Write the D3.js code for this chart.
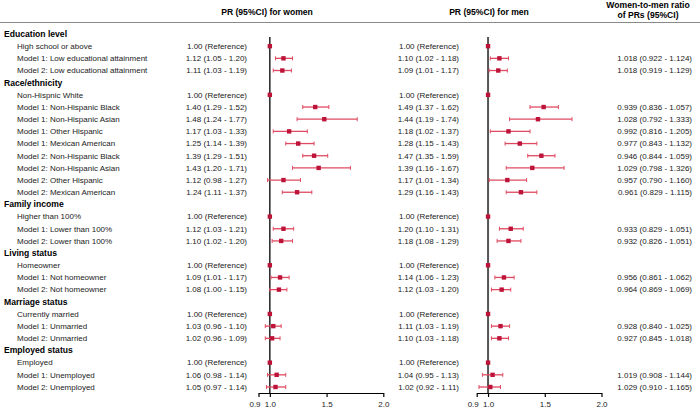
<!DOCTYPE html>
<html>
<head>
<meta charset="utf-8">
<script src="https://cdn.jsdelivr.net/npm/d3@7"></script>
<style>
  body { margin: 0; background: #fff; }
  svg { font-family: "Liberation Sans", Arial, sans-serif; }
</style>
</head>
<body>
<svg id="chart" width="700" height="411"></svg>
<script>
// row labels, "h" = section header, "s" = sub row
const labels = [
  "Education level", "High school or above", "Model 1: Low educational attainment", "Model 2: Low educational attainment",
  "Race/ethnicity", "Non-Hispnic White", "Model 1: Non-Hispanic Black", "Model 1: Non-Hispanic Asian",
  "Model 1: Other Hispanic", "Model 1: Mexican American", "Model 2: Non-Hispanic Black", "Model 2: Non-Hispanic Asian",
  "Model 2: Other Hispanic", "Model 2: Mexican American",
  "Family income", "Higher than 100%", "Model 1: Lower than 100%", "Model 2: Lower than 100%",
  "Living status", "Homeowner", "Model 1: Not homeowner", "Model 2: Not homeowner",
  "Marriage status", "Currently married", "Model 1: Unmarried", "Model 2: Unmarried",
  "Employed status", "Employed", "Model 1: Unemployed", "Model 2: Unemployed"
];
const rowType = [
  "h","s","s","s",
  "h","s","s","s","s","s","s","s","s","s",
  "h","s","s","s",
  "h","s","s","s",
  "h","s","s","s",
  "h","s","s","s"
];
// 1 where the row is the reference category
const isRef = [
  0,1,0,0,
  0,1,0,0,0,0,0,0,0,0,
  0,1,0,0,
  0,1,0,0,
  0,1,0,0,
  0,1,0,0
];

const womenPR = [null,1.00,1.12,1.11, null,1.00,1.40,1.48,1.17,1.25,1.39,1.43,1.12,1.24, null,1.00,1.12,1.10, null,1.00,1.09,1.08, null,1.00,1.03,1.02, null,1.00,1.06,1.05];
const womenLo = [null,1.00,1.05,1.03, null,1.00,1.29,1.24,1.03,1.14,1.29,1.20,0.98,1.11, null,1.00,1.03,1.02, null,1.00,1.01,1.00, null,1.00,0.96,0.96, null,1.00,0.98,0.97];
const womenHi = [null,1.00,1.20,1.19, null,1.00,1.52,1.77,1.33,1.39,1.51,1.71,1.27,1.37, null,1.00,1.21,1.20, null,1.00,1.17,1.15, null,1.00,1.10,1.09, null,1.00,1.14,1.14];

const menPR = [null,1.00,1.10,1.09, null,1.00,1.49,1.44,1.18,1.28,1.47,1.39,1.17,1.29, null,1.00,1.20,1.18, null,1.00,1.14,1.12, null,1.00,1.11,1.10, null,1.00,1.04,1.02];
const menLo = [null,1.00,1.02,1.01, null,1.00,1.37,1.19,1.02,1.15,1.35,1.16,1.01,1.16, null,1.00,1.10,1.08, null,1.00,1.06,1.03, null,1.00,1.03,1.03, null,1.00,0.95,0.92];
const menHi = [null,1.00,1.18,1.17, null,1.00,1.62,1.74,1.37,1.43,1.59,1.67,1.34,1.43, null,1.00,1.31,1.29, null,1.00,1.23,1.20, null,1.00,1.19,1.18, null,1.00,1.13,1.11];

const ratio = [null,null,1.018,1.018, null,null,0.939,1.028,0.992,0.977,0.946,1.029,0.957,0.961, null,null,0.933,0.932, null,null,0.956,0.964, null,null,0.928,0.927, null,null,1.019,1.029];
const ratioLo = [null,null,0.922,0.919, null,null,0.836,0.792,0.816,0.843,0.844,0.798,0.790,0.829, null,null,0.829,0.826, null,null,0.861,0.869, null,null,0.840,0.845, null,null,0.908,0.910];
const ratioHi = [null,null,1.124,1.129, null,null,1.057,1.333,1.205,1.132,1.059,1.326,1.160,1.115, null,null,1.051,1.051, null,null,1.062,1.069, null,null,1.025,1.018, null,null,1.144,1.165];

const xTicks = [0.9, 1.0, 1.5, 2.0];

const svg = d3.select("#chart");
const markColor = "#bd1339";
const ciColor = "#e04a60";

const rows = d3.range(labels.length);
const y = d3.scaleLinear().domain([0, labels.length - 1]).range([34, 387]);
const axisY = 393;

const xW = d3.scaleLinear().domain([0.9, 2.0]).range([258.5, 383.3]);
const xM = d3.scaleLinear().domain([0.9, 2.0]).range([476.7, 601.5]);

const prText = (i, est, lo, hi) =>
  isRef[i] ? "1.00 (Reference)" : `${est[i].toFixed(2)} (${lo[i].toFixed(2)} - ${hi[i].toFixed(2)})`;

// headers
svg.append("text").attr("x", 267).attr("y", 15).attr("text-anchor", "middle")
  .attr("font-size", 8.6).attr("font-weight", "bold").text("PR (95%CI) for women");
svg.append("text").attr("x", 489).attr("y", 15).attr("text-anchor", "middle")
  .attr("font-size", 8.6).attr("font-weight", "bold").text("PR (95%CI) for men");
svg.append("text").attr("x", 648).attr("y", 8).attr("text-anchor", "middle")
  .attr("font-size", 8.6).attr("font-weight", "bold").text("Women-to-men ratio");
svg.append("text").attr("x", 648).attr("y", 18).attr("text-anchor", "middle")
  .attr("font-size", 8.6).attr("font-weight", "bold").text("of PRs (95%CI)");
svg.append("line").attr("x1", 0).attr("x2", 700).attr("y1", 22.5).attr("y2", 22.5)
  .attr("stroke", "#8a8a8a").attr("stroke-width", 1);

// labels
svg.append("g").selectAll("text").data(rows).join("text")
  .attr("x", i => rowType[i] === "h" ? 4 : 17)
  .attr("y", i => y(i)).attr("dy", "0.35em")
  .attr("font-size", i => rowType[i] === "h" ? 8.6 : 8)
  .attr("font-weight", i => rowType[i] === "h" ? "bold" : "normal")
  .attr("fill", i => rowType[i] === "h" ? "#000" : "#222")
  .text(i => labels[i]);

const dataRows = rows.filter(i => rowType[i] === "s");

// value columns
svg.append("g").selectAll("text").data(dataRows).join("text")
  .attr("x", 247).attr("y", i => y(i)).attr("dy", "0.35em")
  .attr("text-anchor", "end").attr("font-size", 8).attr("fill", "#222")
  .text(i => prText(i, womenPR, womenLo, womenHi));
svg.append("g").selectAll("text").data(dataRows).join("text")
  .attr("x", 459).attr("y", i => y(i)).attr("dy", "0.35em")
  .attr("text-anchor", "end").attr("font-size", 8).attr("fill", "#222")
  .text(i => prText(i, menPR, menLo, menHi));
svg.append("g").selectAll("text").data(dataRows.filter(i => ratio[i] != null)).join("text")
  .attr("x", 692).attr("y", i => y(i)).attr("dy", "0.35em")
  .attr("text-anchor", "end").attr("font-size", 8).attr("fill", "#222")
  .text(i => `${ratio[i].toFixed(3)} (${ratioLo[i].toFixed(3)} - ${ratioHi[i].toFixed(3)})`);

function forest(x, est, lo, hi, refColor, refWidth) {
  const g = svg.append("g");
  g.append("line").attr("x1", x(1)).attr("x2", x(1)).attr("y1", 37).attr("y2", axisY)
    .attr("stroke", refColor).attr("stroke-width", refWidth);

  const ax = g.append("g").attr("transform", `translate(0,${axisY})`)
    .call(d3.axisBottom(x).tickValues(xTicks).tickFormat(d3.format(".1f")).tickSize(4).tickSizeOuter(0));
  ax.select(".domain").attr("stroke", "#000").attr("stroke-width", 1.2);
  ax.selectAll(".tick line").attr("stroke", "#000").attr("stroke-width", 1.2);
  ax.selectAll(".tick text").attr("font-size", 8).attr("font-family", "Liberation Sans, Arial, sans-serif")
    .attr("fill", "#222").attr("dy", "0.9em")
    .attr("dx", d => d === 0.9 ? -4 : 0);

  const ci = dataRows.filter(i => !isRef[i]);
  g.selectAll(".ci").data(ci).join("line").attr("class", "ci")
    .attr("x1", i => x(lo[i])).attr("x2", i => x(hi[i]))
    .attr("y1", i => y(i)).attr("y2", i => y(i))
    .attr("stroke", ciColor).attr("stroke-width", 1.3);
  g.selectAll(".capl").data(ci).join("line").attr("class", "capl")
    .attr("x1", i => x(lo[i])).attr("x2", i => x(lo[i]))
    .attr("y1", i => y(i) - 2).attr("y2", i => y(i) + 2)
    .attr("stroke", ciColor).attr("stroke-width", 1);
  g.selectAll(".caph").data(ci).join("line").attr("class", "caph")
    .attr("x1", i => x(hi[i])).attr("x2", i => x(hi[i]))
    .attr("y1", i => y(i) - 2).attr("y2", i => y(i) + 2)
    .attr("stroke", ciColor).attr("stroke-width", 1);
  g.selectAll(".pt").data(dataRows).join("rect").attr("class", "pt")
    .attr("x", i => x(est[i]) - 2.2).attr("y", i => y(i) - 2.2)
    .attr("width", 4.4).attr("height", 4.4).attr("fill", markColor);
}

forest(xW, womenPR, womenLo, womenHi, "#000", 1.3);
forest(xM, menPR, menLo, menHi, "#555", 2);
</script>
</body>
</html>
